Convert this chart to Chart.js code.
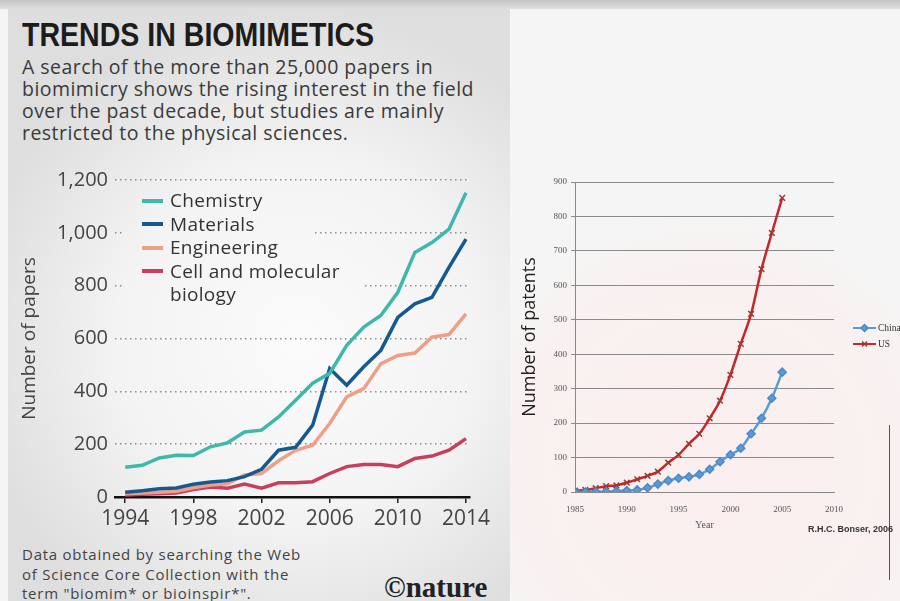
<!DOCTYPE html>
<html>
<head>
<meta charset="utf-8">
<script src="https://cdn.jsdelivr.net/npm/chart.js@4"></script>
<style>
  html, body { margin: 0; padding: 0; }
  body { width: 900px; height: 601px; overflow: hidden; position: relative; background: #f6f5f5; font-family: "Open Sans", sans-serif; }
  #topband { position: absolute; left: 0; top: 0; width: 900px; height: 9px; background: linear-gradient(#c4c4c4, #dedede); }
  #rightbg { position: absolute; left: 510px; top: 9px; width: 390px; height: 592px;
    background: radial-gradient(circle at 200px 460px, #fbeeee 0, #f9f1f1 200px, rgba(246,245,245,0) 260px), #f5f5f5; }
  #leftpanel { position: absolute; left: 8px; top: 9px; width: 502px; height: 592px;
    background: radial-gradient(ellipse 330px 330px at 290px 330px, #fbfbfb 0, #f3f3f3 55%, #dedede 100%), #dedede; }
  .abs { position: absolute; white-space: nowrap; }
  #title { left: 22px; top: 16px; font-family: "Liberation Sans", sans-serif; font-weight: bold; font-size: 33px; color: #1c1c1c;
    transform: scaleX(0.865); transform-origin: 0 0; }
  #sub { left: 22px; top: 56px; font-size: 19.5px; line-height: 22px; color: #3a3a3a; letter-spacing: 0.45px; }
  #foot { left: 22px; top: 545px; font-size: 15px; line-height: 19.5px; color: #444; letter-spacing: 0.75px; }
  #nature { left: 384px; top: 571px; font-family: "Liberation Serif", serif; font-weight: bold; font-size: 29px; color: #222; }
  #legend { left: 142px; top: 189px; font-size: 19px; line-height: 23.5px; color: #333; letter-spacing: 0.3px; }
  #legend .sw { display: inline-block; width: 21px; height: 4px; vertical-align: middle; margin-right: 7px; position: relative; top: -1px; }
  #legend .ind { padding-left: 28px; }
  #credit { left: 808px; top: 524px; font-family: "Liberation Sans", sans-serif; font-weight: bold; font-size: 9px; color: #333; }
  #vline { position: absolute; left: 889px; top: 425px; width: 1px; height: 155px; background: #555; }
  #c1 { position: absolute; left: 0; top: 160px; }
  #c2 { position: absolute; left: 510px; top: 160px; }
</style>
</head>
<body>
<div id="topband"></div>
<div id="rightbg"></div>
<div id="leftpanel"></div>
<div id="vline"></div>

<div class="abs" id="title">TRENDS IN BIOMIMETICS</div>
<div class="abs" id="sub">A search of the more than 25,000 papers in<br>biomimicry shows the rising interest in the field<br>over the past decade, but studies are mainly<br>restricted to the physical sciences.</div>

<canvas id="c1" width="510" height="380"></canvas>
<canvas id="c2" width="400" height="390"></canvas>

<div class="abs" id="legend">
  <div><span class="sw" style="background:#3fb8aa"></span>Chemistry</div>
  <div><span class="sw" style="background:#16598f"></span>Materials</div>
  <div><span class="sw" style="background:#ef9f85"></span>Engineering</div>
  <div><span class="sw" style="background:#c6405e"></span>Cell and molecular</div>
  <div class="ind">biology</div>
</div>

<div class="abs" id="foot">Data obtained by searching the Web<br>of Science Core Collection with the<br>term "biomim* or bioinspir*".</div>
<div class="abs" id="nature">©nature</div>
<div class="abs" id="credit">R.H.C. Bonser, 2006</div>

<script>
// papers per year (nature chart)
const years = [1994, 1995, 1996, 1997, 1998, 1999, 2000, 2001, 2002, 2003, 2004,
               2005, 2006, 2007, 2008, 2009, 2010, 2011, 2012, 2013, 2014];
const chemistry   = [113, 120, 148, 158, 157, 190, 205, 246, 253, 303, 366, 431, 468, 574, 643, 687, 775, 926, 963, 1014, 1152];
const materials   = [18, 24, 31, 34, 48, 57, 62, 77, 105, 177, 188, 272, 486, 423, 493, 555, 680, 731, 756, 869, 976];
const engineering = [12, 15, 18, 22, 35, 45, 50, 83, 89, 137, 177, 196, 278, 379, 410, 504, 536, 545, 605, 615, 693];
const cellBio     = [8, 10, 12, 15, 28, 38, 33, 49, 33, 54, 54, 58, 89, 115, 123, 123, 115, 146, 155, 177, 221];
const xTicks = [1994, 1998, 2002, 2006, 2010, 2014];

// patents per year (Bonser chart)
const patentYears = [1985, 1986, 1987, 1988, 1989, 1990, 1991, 1992, 1993, 1994, 1995,
                     1996, 1997, 1998, 1999, 2000, 2001, 2002, 2003, 2004, 2005];
const china = [0, 0, 1, 1, 2, 4, 6, 12, 23, 33, 40, 44, 51, 66, 88, 108, 127, 169, 214, 272, 348];
const us    = [4, 6, 11, 17, 19, 27, 37, 47, 59, 85, 108, 140, 169, 214, 265, 340, 430, 517, 647, 752, 854];

const pts = (xs, ys) => xs.map((x, i) => ({ x: x, y: ys[i] }));

// wipe the gridlines behind the legend box
const legendGap = {
  id: 'legendGap',
  beforeDatasetsDraw(chart) {
    const ctx = chart.ctx;
    ctx.clearRect(122, 28, 190, 48);
    ctx.clearRect(122, 76, 240, 70);
  }
};

new Chart(document.getElementById('c1'), {
  type: 'line',
  data: {
    datasets: [
      { label: 'Chemistry', data: pts(years, chemistry), borderColor: '#3fb8aa' },
      { label: 'Materials', data: pts(years, materials), borderColor: '#16598f' },
      { label: 'Engineering', data: pts(years, engineering), borderColor: '#ef9f85' },
      { label: 'Cell and molecular biology', data: pts(years, cellBio), borderColor: '#c6405e' }
    ]
  },
  options: {
    responsive: false,
    animation: false,
    layout: { padding: { left: 0, top: 20, right: 40.6, bottom: 0 } },
    elements: { line: { borderWidth: 3.5, tension: 0 }, point: { radius: 0 } },
    plugins: { legend: { display: false }, tooltip: { enabled: false } },
    scales: {
      x: {
        type: 'linear', min: 1993.4, max: 2014.2,
        afterBuildTicks: s => { s.ticks = xTicks.map(v => ({ value: v })); },
        afterFit: s => { s.height = 43; },
        grid: { drawOnChartArea: false, drawTicks: true, tickLength: 6, color: '#222', lineWidth: 1.5 },
        border: { display: true, color: '#111', width: 2.5 },
        ticks: { padding: 3, color: '#444', font: { family: 'Open Sans', size: 21 }, callback: v => String(v), maxRotation: 0 }
      },
      y: {
        min: 0, max: 1200,
        afterFit: s => { s.width = 115; },
        grid: { color: '#8d8d8d', lineWidth: 1.5, drawTicks: false },
        border: { display: false, dash: [1.5, 3.5] },
        ticks: { stepSize: 200, padding: 7, color: '#444', font: { family: 'Open Sans', size: 20 }, callback: v => v.toLocaleString('en-US') },
        title: { display: true, text: 'Number of papers', color: '#444', font: { family: 'Open Sans', size: 19 }, padding: { top: 18 } }
      }
    }
  },
  plugins: [legendGap]
});

// excel style legend, cut by the window edge like the slide
const sideLegend = {
  id: 'sideLegend',
  afterDraw(chart) {
    const ctx = chart.ctx;
    chart.data.datasets.forEach((ds, i) => {
      const y = 168 + i * 16;
      ctx.save();
      ctx.strokeStyle = ds.borderColor;
      ctx.lineWidth = 2;
      ctx.beginPath(); ctx.moveTo(343, y); ctx.lineTo(366, y); ctx.stroke();
      ctx.fillStyle = ds.pointBackgroundColor;
      ctx.strokeStyle = ds.pointBorderColor;
      ctx.lineWidth = 1.5;
      Chart.helpers.drawPoint(ctx, { pointStyle: ds.pointStyle, radius: 3.5, rotation: 0, borderWidth: 1.5 }, 354.5, y);
      ctx.fillStyle = '#333';
      ctx.font = '9.5px "Liberation Serif"';
      ctx.textBaseline = 'middle';
      ctx.fillText(ds.label, 368, y);
      ctx.restore();
    });
  }
};

new Chart(document.getElementById('c2'), {
  type: 'line',
  data: {
    datasets: [
      { label: 'China', data: pts(patentYears, china), borderColor: '#5b9bd5', pointStyle: 'rectRot',
        pointBackgroundColor: '#5b9bd5', pointBorderColor: '#4a8ac8', pointRadius: 4 },
      { label: 'US', data: pts(patentYears, us), borderColor: '#c4262d', pointStyle: 'crossRot',
        pointBackgroundColor: '#c4262d', pointBorderColor: '#9a3a30', pointRadius: 4 }
    ]
  },
  options: {
    responsive: false,
    animation: false,
    layout: { padding: { left: 0, top: 22, right: 76, bottom: 0 } },
    elements: { line: { borderWidth: 2.5, tension: 0.3 }, point: { borderWidth: 1.5 } },
    plugins: { legend: { display: false }, tooltip: { enabled: false } },
    scales: {
      x: {
        type: 'linear', min: 1985, max: 2010,
        afterFit: s => { s.height = 58; },
        grid: { display: false },
        border: { display: true, color: '#888', width: 1 },
        ticks: { stepSize: 5, padding: 4, color: '#555', font: { family: 'Liberation Serif', size: 9 }, callback: v => String(v), maxRotation: 0 },
        title: { display: true, text: 'Year', color: '#555', font: { family: 'Liberation Serif', size: 10 }, padding: { top: 0, bottom: 19 } }
      },
      y: {
        min: 0, max: 900,
        afterFit: s => { s.width = 65; },
        grid: { color: '#8a8a8a', lineWidth: 1, drawTicks: true, tickLength: 4 },
        border: { display: true, color: '#888', width: 1 },
        ticks: { stepSize: 100, padding: 4, color: '#555', font: { family: 'Liberation Serif', size: 9 } },
        title: { display: true, text: 'Number of patents', color: '#222', font: { family: 'Open Sans', size: 18 }, padding: { top: 9 } }
      }
    }
  },
  plugins: [sideLegend]
});
</script>
</body>
</html>
